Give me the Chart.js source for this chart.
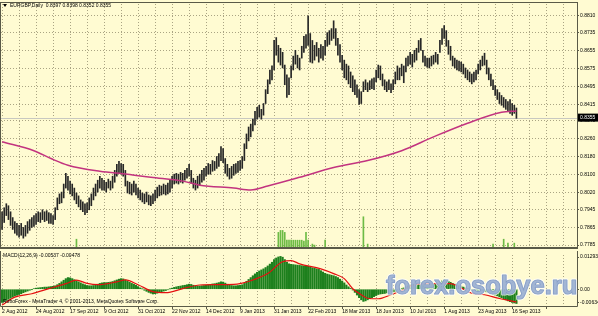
<!DOCTYPE html>
<html>
<head>
<meta charset="utf-8">
<script src="https://cdn.jsdelivr.net/npm/chart.js@4.4.1/dist/chart.umd.min.js"></script>
<style>
  html, body { margin: 0; padding: 0; background: #fffbd2; }
  #wrap { position: relative; width: 598px; height: 316px; overflow: hidden; }
  #main { position: absolute; left: 0; top: 0; }
  #macd { position: absolute; left: 0; top: 251px; }
</style>
</head>
<body>
<div id="wrap">
  <canvas id="main" width="598" height="252"></canvas>
  <canvas id="macd" width="598" height="65"></canvas>
</div>
<script>
// EURGBP daily, one bar per trading day (index 0 = 2 Aug 2012)
const dateLabels = ['2 Aug 2012', '24 Aug 2012', '17 Sep 2012', '9 Oct 2012', '31 Oct 2012', '22 Nov 2012',
  '14 Dec 2012', '9 Jan 2013', '31 Jan 2013', '22 Feb 2013', '18 Mar 2013', '18 Jun 2013',
  '10 Jul 2013', '1 Aug 2013', '23 Aug 2013', '16 Sep 2013'];
const barsPerLabel = 16;

const priceTicks = [0.7785, 0.7865, 0.7945, 0.8020, 0.8100, 0.8180, 0.8260, 0.8340,
  0.8415, 0.8495, 0.8575, 0.8655, 0.8735, 0.8810];

const highs = [
  0.7934, 0.7952, 0.7970, 0.7961, 0.7934, 0.7908, 0.7890, 0.7882, 0.7873, 0.7882,
  0.7864, 0.7873, 0.7890, 0.7899, 0.7908, 0.7917, 0.7926, 0.7934, 0.7930, 0.7943,
  0.7934, 0.7939, 0.7930, 0.7926, 0.7917, 0.7952, 0.7996, 0.8014, 0.8022, 0.8058,
  0.8106, 0.8093, 0.8071, 0.8058, 0.8040, 0.8018, 0.8005, 0.7987, 0.7978, 0.7970,
  0.7974, 0.7996, 0.8014, 0.8040, 0.8058, 0.8075, 0.8093, 0.8084, 0.8075, 0.8066,
  0.8080, 0.8071, 0.8093, 0.8119, 0.8146, 0.8159, 0.8150, 0.8146, 0.8119, 0.8071,
  0.8066, 0.8058, 0.8071, 0.8058, 0.8040, 0.8031, 0.8018, 0.8014, 0.8022, 0.8009,
  0.8005, 0.8014, 0.8031, 0.8044, 0.8053, 0.8049, 0.8058, 0.8053, 0.8062, 0.8075,
  0.8093, 0.8102, 0.8106, 0.8102, 0.8110, 0.8106, 0.8119, 0.8128, 0.8146, 0.8119,
  0.8084, 0.8075, 0.8093, 0.8102, 0.8119, 0.8128, 0.8137, 0.8150, 0.8146, 0.8163,
  0.8159, 0.8181, 0.8194, 0.8225, 0.8216, 0.8172, 0.8146, 0.8128, 0.8137, 0.8146,
  0.8150, 0.8159, 0.8163, 0.8181, 0.8238, 0.8282, 0.8313, 0.8326, 0.8348, 0.8383,
  0.8401, 0.8410, 0.8392, 0.8418, 0.8480, 0.8524, 0.8568, 0.8586, 0.8700, 0.8713,
  0.8678, 0.8665, 0.8647, 0.8590, 0.8546, 0.8533, 0.8586, 0.8630, 0.8656, 0.8634,
  0.8621, 0.8674, 0.8718, 0.8726, 0.8810, 0.8731, 0.8700, 0.8678, 0.8691, 0.8665,
  0.8682, 0.8674, 0.8700, 0.8735, 0.8744, 0.8753, 0.8788, 0.8753, 0.8709, 0.8682,
  0.8634, 0.8612, 0.8594, 0.8586, 0.8559, 0.8542, 0.8524, 0.8502, 0.8480, 0.8471,
  0.8515, 0.8524, 0.8511, 0.8520, 0.8528, 0.8533, 0.8568, 0.8590, 0.8586, 0.8550,
  0.8524, 0.8515, 0.8524, 0.8506, 0.8524, 0.8559, 0.8586, 0.8577, 0.8594, 0.8586,
  0.8621, 0.8630, 0.8647, 0.8638, 0.8656, 0.8665, 0.8700, 0.8709, 0.8656, 0.8630,
  0.8621, 0.8621, 0.8630, 0.8634, 0.8647, 0.8638, 0.8700, 0.8753, 0.8766, 0.8744,
  0.8700, 0.8674, 0.8630, 0.8621, 0.8612, 0.8608, 0.8603, 0.8594, 0.8577, 0.8568,
  0.8559, 0.8550, 0.8559, 0.8568, 0.8594, 0.8612, 0.8630, 0.8643, 0.8612, 0.8577,
  0.8550, 0.8524, 0.8498, 0.8480, 0.8467, 0.8454, 0.8445, 0.8436, 0.8427, 0.8436,
  0.8418, 0.8410, 0.8398
];
const lows = [
  0.7855, 0.7886, 0.7917, 0.7899, 0.7873, 0.7855, 0.7838, 0.7829, 0.7820, 0.7829,
  0.7816, 0.7825, 0.7838, 0.7851, 0.7864, 0.7868, 0.7877, 0.7890, 0.7886, 0.7899,
  0.7890, 0.7895, 0.7882, 0.7882, 0.7877, 0.7899, 0.7943, 0.7970, 0.7974, 0.7996,
  0.8040, 0.8031, 0.8014, 0.8005, 0.7987, 0.7970, 0.7956, 0.7943, 0.7934, 0.7921,
  0.7930, 0.7943, 0.7961, 0.7987, 0.8005, 0.8022, 0.8040, 0.8031, 0.8031, 0.8022,
  0.8040, 0.8031, 0.8040, 0.8066, 0.8093, 0.8106, 0.8102, 0.8093, 0.8049, 0.8018,
  0.8014, 0.8009, 0.8022, 0.8009, 0.7996, 0.7987, 0.7978, 0.7970, 0.7978, 0.7965,
  0.7961, 0.7970, 0.7983, 0.7996, 0.8005, 0.8009, 0.8014, 0.8009, 0.8014, 0.8022,
  0.8040, 0.8058, 0.8062, 0.8058, 0.8066, 0.8062, 0.8075, 0.8084, 0.8093, 0.8062,
  0.8040, 0.8031, 0.8040, 0.8053, 0.8066, 0.8075, 0.8093, 0.8102, 0.8102, 0.8115,
  0.8119, 0.8128, 0.8137, 0.8163, 0.8154, 0.8106, 0.8093, 0.8080, 0.8084, 0.8097,
  0.8106, 0.8110, 0.8119, 0.8128, 0.8163, 0.8216, 0.8251, 0.8269, 0.8295, 0.8322,
  0.8348, 0.8357, 0.8348, 0.8366, 0.8418, 0.8462, 0.8506, 0.8524, 0.8568, 0.8634,
  0.8603, 0.8590, 0.8577, 0.8502, 0.8445, 0.8458, 0.8533, 0.8568, 0.8594, 0.8577,
  0.8568, 0.8621, 0.8647, 0.8665, 0.8678, 0.8603, 0.8599, 0.8612, 0.8630, 0.8603,
  0.8621, 0.8612, 0.8634, 0.8674, 0.8682, 0.8700, 0.8709, 0.8678, 0.8634, 0.8603,
  0.8568, 0.8533, 0.8524, 0.8506, 0.8489, 0.8471, 0.8458, 0.8445, 0.8414, 0.8418,
  0.8471, 0.8480, 0.8471, 0.8480, 0.8484, 0.8480, 0.8515, 0.8533, 0.8524, 0.8498,
  0.8480, 0.8471, 0.8480, 0.8467, 0.8480, 0.8506, 0.8524, 0.8524, 0.8542, 0.8511,
  0.8559, 0.8586, 0.8594, 0.8581, 0.8603, 0.8612, 0.8647, 0.8656, 0.8603, 0.8586,
  0.8581, 0.8577, 0.8586, 0.8594, 0.8603, 0.8594, 0.8647, 0.8682, 0.8709, 0.8674,
  0.8638, 0.8612, 0.8586, 0.8577, 0.8568, 0.8564, 0.8559, 0.8550, 0.8533, 0.8524,
  0.8515, 0.8506, 0.8515, 0.8524, 0.8550, 0.8568, 0.8586, 0.8590, 0.8550, 0.8524,
  0.8498, 0.8480, 0.8454, 0.8436, 0.8418, 0.8410, 0.8401, 0.8392, 0.8383, 0.8374,
  0.8366, 0.8374, 0.8352
];
const lastBar = { open: 0.8397, high: 0.8398, low: 0.8352, close: 0.8355 };

// moving average, read at [bar index, price]
const maPoints = [[0, 0.8247], [15, 0.8207], [23, 0.8172], [31, 0.8142], [46, 0.8115], [59, 0.8102],
  [70, 0.8088], [85, 0.8071], [93, 0.8053], [109, 0.8040], [117, 0.8031], [125, 0.8049],
  [140, 0.8088], [156, 0.8132], [172, 0.8163], [188, 0.8207], [203, 0.8269], [219, 0.8330],
  [235, 0.8379], [242, 0.8385]];

// tick volume spikes, [bar index, volume]
const volumes = [[35, 9], [130, 16], [131, 18], [132, 18], [133, 16], [134, 8], [135, 8], [136, 8],
  [137, 8], [138, 8], [139, 8], [140, 8], [141, 8], [142, 7], [143, 16], [144, 8], [146, 4],
  [147, 3], [152, 8], [170, 32], [172, 4], [231, 4], [236, 9], [238, 5], [241, 5]];

// MACD(12,26,9) main line, one value per bar
const macdMain = [
  -0.0050, -0.0046, -0.0042, -0.0038, -0.0034, -0.0030, -0.0026, -0.0023, -0.0020, -0.0017,
  -0.0013, -0.0010, -0.0007, -0.0004, -0.0001, 0.0002, 0.0004, 0.0005, 0.0006, 0.0007,
  0.0008, 0.0008, 0.0009, 0.0010, 0.0011, 0.0013, 0.0017, 0.0022, 0.0028, 0.0034,
  0.0040, 0.0044, 0.0043, 0.0040, 0.0036, 0.0032, 0.0028, 0.0024, 0.0020, 0.0017,
  0.0014, 0.0013, 0.0013, 0.0014, 0.0016, 0.0019, 0.0022, 0.0024, 0.0025, 0.0025,
  0.0026, 0.0027, 0.0029, 0.0032, 0.0035, 0.0038, 0.0040, 0.0039, 0.0035, 0.0030,
  0.0026, 0.0022, 0.0019, 0.0015, 0.0010, 0.0005, 0.0001, -0.0004, -0.0008, -0.0012,
  -0.0015, -0.0018, -0.0017, -0.0015, -0.0012, -0.0010, -0.0007, -0.0005, -0.0002, 0.0001,
  0.0004, 0.0007, 0.0009, 0.0011, 0.0012, 0.0014, 0.0015, 0.0017, 0.0019, 0.0018,
  0.0015, 0.0013, 0.0012, 0.0012, 0.0013, 0.0014, 0.0015, 0.0017, 0.0018, 0.0020,
  0.0021, 0.0023, 0.0025, 0.0028, 0.0027, 0.0023, 0.0019, 0.0016, 0.0014, 0.0013,
  0.0013, 0.0014, 0.0015, 0.0017, 0.0022, 0.0030, 0.0037, 0.0044, 0.0051, 0.0058,
  0.0064, 0.0069, 0.0073, 0.0077, 0.0082, 0.0088, 0.0095, 0.0102, 0.0112, 0.0118,
  0.0122, 0.0124, 0.0121, 0.0112, 0.0102, 0.0096, 0.0094, 0.0093, 0.0092, 0.0091,
  0.0090, 0.0089, 0.0088, 0.0087, 0.0087, 0.0084, 0.0081, 0.0079, 0.0077, 0.0075,
  0.0070, 0.0065, 0.0060, 0.0057, 0.0055, 0.0053, 0.0051, 0.0048, 0.0044, 0.0038,
  0.0031, 0.0024, 0.0016, 0.0009, 0.0003, -0.0003, -0.0012, -0.0022, -0.0032, -0.0040,
  -0.0046, -0.0044, -0.0040, -0.0036, -0.0032, -0.0028, -0.0024, -0.0020, -0.0018, -0.0017,
  -0.0016, -0.0014, -0.0012, -0.0011, -0.0010, -0.0008, -0.0005, -0.0002, 0.0001, 0.0005,
  0.0009, 0.0013, 0.0016, 0.0018, 0.0020, 0.0022, 0.0024, 0.0026, 0.0026, 0.0025,
  0.0024, 0.0023, 0.0023, 0.0022, 0.0022, 0.0023, 0.0026, 0.0031, 0.0036, 0.0034,
  0.0030, 0.0026, 0.0022, 0.0019, 0.0016, 0.0013, 0.0010, 0.0008, 0.0005, 0.0003,
  0.0001, -0.0001, -0.0003, -0.0005, -0.0006, -0.0007, -0.0007, -0.0008, -0.0010, -0.0013,
  -0.0016, -0.0019, -0.0022, -0.0025, -0.0029, -0.0032, -0.0036, -0.0040, -0.0044, -0.0047,
  -0.0050, -0.0052, -0.0054
];
// MACD signal line, read at [bar index, value]
const macdSignal = [[0, -0.0060], [6, -0.0030], [14, -0.0017], [22, 0.0002], [30, 0.0021], [35, 0.0034],
  [40, 0.0022], [45, 0.0017], [54, 0.0028], [58, 0.0035], [64, 0.0017], [71, -0.0009], [77, -0.0013],
  [85, 0.0002], [93, 0.0016], [101, 0.0017], [109, 0.0018], [117, 0.0032], [125, 0.0059], [132, 0.0104],
  [136, 0.0108], [140, 0.0096], [150, 0.0077], [156, 0.0059], [161, 0.0040], [165, 0.0002],
  [169, -0.0021], [172, -0.0034], [177, -0.0036], [183, -0.0021], [188, -0.0006], [194, 0.0017],
  [203, 0.0021], [211, 0.0021], [216, 0.0004], [221, -0.0015], [227, -0.0021], [234, -0.0035],
  [242, -0.0048]];
const macdHeader = [-0.00537, -0.00478];
const macdRange = [-0.00634, 0.01293];
const macdTickLabels = ['-0.00634', '0.00', '0.01293'];

const X_MIN = -0.5, X_MAX = 270.5;
const FRAME = '#5a5a48';
const GRID = '#aaa483';
const FONT = '5px "Liberation Sans"';

Chart.defaults.font.family = 'Liberation Sans';
Chart.defaults.font.size = 5;
Chart.defaults.color = '#000';
Chart.defaults.animation = false;
Chart.defaults.events = [];

function gridTicks(scale) {
  const t = [];
  for (let v = 0; v <= X_MAX; v += 8) t.push({ value: v });
  scale.ticks = t;
}

const mainFrame = {
  id: 'mainFrame',
  beforeDatasetsDraw(chart) {
    const { ctx, chartArea: a, scales } = chart;
    const y = Math.round(scales.y.getPixelForValue(lastBar.close)) + 0.5;
    ctx.save();
    ctx.strokeStyle = '#c8c8c0';
    ctx.beginPath(); ctx.moveTo(a.left, y); ctx.lineTo(a.right, y); ctx.stroke();
    ctx.restore();
  },
  afterDraw(chart) {
    const { ctx, chartArea: a, scales } = chart;
    ctx.save();
    ctx.strokeStyle = FRAME;
    ctx.lineWidth = 1;
    ctx.strokeRect(a.left - 0.5, a.top - 1.5, a.right - a.left + 1, a.bottom - a.top + 2);
    ctx.fillStyle = FRAME;
    ctx.fillRect(a.left - 1, a.bottom - 1, a.right - a.left + 2, 2);
    // current price box
    const y = scales.y.getPixelForValue(lastBar.close);
    ctx.fillStyle = '#000';
    ctx.fillRect(a.right + 1, y - 4, 20, 8);
    ctx.fillStyle = '#fff';
    ctx.font = FONT;
    ctx.textBaseline = 'middle';
    ctx.fillText(lastBar.close.toFixed(4), a.right + 3, y);
    // header
    ctx.fillStyle = '#000';
    ctx.beginPath(); ctx.moveTo(3, 4); ctx.lineTo(7, 4); ctx.lineTo(5, 7); ctx.closePath(); ctx.fill();
    ctx.fillText('EURGBP,Daily  ' + [lastBar.open, lastBar.high, lastBar.low, lastBar.close]
      .map(v => v.toFixed(4)).join(' '), 10, 6);
    ctx.restore();
  }
};

new Chart(document.getElementById('main'), {
  type: 'bar',
  data: {
    datasets: [{
      type: 'line',
      data: maPoints.map(([i, p]) => ({ x: i, y: p })),
      borderColor: '#c2337f',
      borderWidth: 1.5,
      pointRadius: 0,
      cubicInterpolationMode: 'monotone',
      order: 0
    }, {
      data: highs.map((h, i) => ({ x: i, y: [lows[i], h] })),
      backgroundColor: '#262626',
      barThickness: 1,
      grouped: false,
      order: 1
    }, {
      data: volumes.map(([i, v]) => ({ x: i, y: v })),
      yAxisID: 'yVol',
      backgroundColor: '#6dbb45',
      barThickness: 1,
      grouped: false,
      order: 2
    }]
  },
  options: {
    responsive: false,
    layout: { padding: { left: 1, top: 3, right: 0, bottom: 1 } },
    plugins: { legend: { display: false }, tooltip: { enabled: false } },
    scales: {
      x: {
        type: 'linear', min: X_MIN, max: X_MAX, offset: false,
        afterBuildTicks: gridTicks,
        afterFit(s) { s.height = 0; },
        ticks: { display: false },
        grid: { color: GRID, drawTicks: false, offset: false, borderDash: [1, 2] },
        border: { display: false, dash: [1, 2] }
      },
      y: {
        position: 'right', min: 0.7772, max: 0.8863,
        afterBuildTicks(s) { s.ticks = priceTicks.map(v => ({ value: v })); },
        afterFit(s) { s.width = 21; },
        ticks: { callback: v => v.toFixed(4), padding: 1 },
        grid: { color: GRID, tickLength: 2, tickColor: FRAME, tickBorderDash: [], borderDash: [1, 2] },
        border: { display: false, dash: [1, 2] }
      },
      yVol: { display: false, min: 0, max: 250 }
    }
  },
  plugins: [mainFrame]
});

const macdFrame = {
  id: 'macdFrame',
  afterDraw(chart) {
    const { ctx, chartArea: a } = chart;
    ctx.save();
    ctx.strokeStyle = FRAME;
    ctx.lineWidth = 1;
    ctx.beginPath();
    ctx.moveTo(a.left - 0.5, 0); ctx.lineTo(a.left - 0.5, a.bottom + 0.5);
    ctx.lineTo(a.right + 0.5, a.bottom + 0.5); ctx.lineTo(a.right + 0.5, 0);
    ctx.stroke();
    ctx.font = FONT;
    ctx.fillStyle = '#000';
    ctx.textBaseline = 'middle';
    ctx.fillText('MACD(12,26,9) ' + macdHeader.map(v => v.toFixed(5)).join(' '), 3, 5);
    ctx.fillText('RoboForex - MetaTrader 4, \u00a9 2001-2013, MetaQuotes Software Corp.', 3, 51);
    // watermark
    ctx.font = 'bold 25.5px "Liberation Sans"';
    ctx.textBaseline = 'alphabetic';
    ctx.lineJoin = 'round';
    ctx.lineWidth = 3;
    ctx.strokeStyle = 'rgba(255,255,255,0.75)';
    ctx.strokeText('forex.osobye.ru', 386, 43);
    ctx.lineWidth = 1.2;
    ctx.strokeStyle = 'rgba(120,145,190,0.9)';
    ctx.strokeText('forex.osobye.ru', 386, 43);
    ctx.fillStyle = 'rgba(150,172,208,0.88)';
    ctx.fillText('forex.osobye.ru', 386, 43);
    ctx.restore();
  }
};

new Chart(document.getElementById('macd'), {
  type: 'bar',
  data: {
    datasets: [{
      type: 'line',
      data: macdSignal.map(([i, v]) => ({ x: i, y: v })),
      borderColor: '#e41010',
      borderWidth: 1.2,
      pointRadius: 0,
      cubicInterpolationMode: 'monotone',
      order: 0
    }, {
      data: macdMain.map((v, i) => ({ x: i, y: v })),
      backgroundColor: '#1d801d',
      barThickness: 1.5,
      grouped: false,
      order: 1
    }]
  },
  options: {
    responsive: false,
    layout: { padding: { left: 1, top: 2, right: 0, bottom: 0 } },
    plugins: { legend: { display: false }, tooltip: { enabled: false } },
    scales: {
      x: {
        type: 'linear', min: X_MIN, max: X_MAX, offset: false,
        afterBuildTicks: gridTicks,
        afterFit(s) { s.height = 10; },
        ticks: {
          autoSkip: false, maxRotation: 0, align: 'start', padding: 0,
          callback: v => (v % barsPerLabel === 0 && dateLabels[v / barsPerLabel]) || ''
        },
        grid: {
          color: GRID, offset: false, tickLength: 3, borderDash: [1, 2], tickBorderDash: [],
          tickColor: c => (c.tick && c.tick.value % barsPerLabel === 0) ? FRAME : 'rgba(0,0,0,0)'
        },
        border: { display: false, dash: [1, 2] }
      },
      y: {
        position: 'right', min: macdRange[0], max: macdRange[1],
        afterBuildTicks(s) {
          const span = macdRange[1] - macdRange[0];
          s.ticks = [{ value: macdRange[0] + span * 0.07 }, { value: 0 }, { value: macdRange[1] - span * 0.04 }];
        },
        afterFit(s) { s.width = 21; },
        ticks: { callback: (v, i) => macdTickLabels[i], padding: 1 },
        grid: { drawOnChartArea: false, tickLength: 2, tickColor: FRAME },
        border: { display: false }
      }
    }
  },
  plugins: [macdFrame]
});
</script>
</body>
</html>
